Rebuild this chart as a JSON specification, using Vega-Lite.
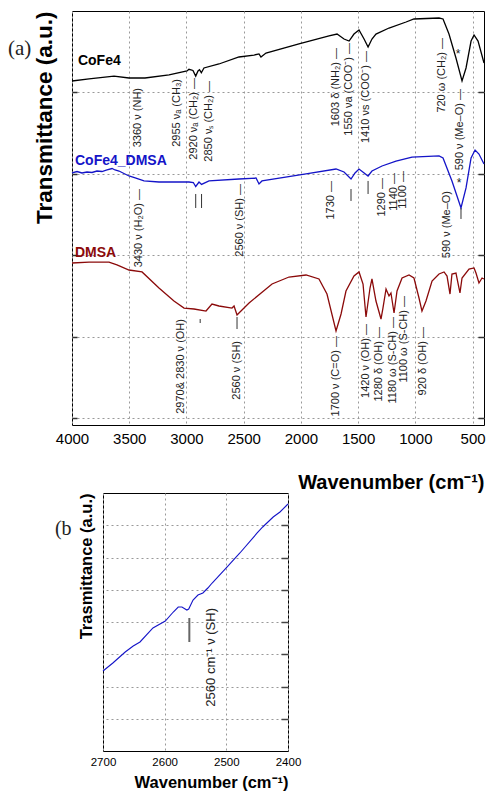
{
  "$schema": "https://vega.github.io/schema/vega-lite/v6.json",
  "padding": {"left": 7, "top": 10, "right": 0, "bottom": 0},
  "background": "white",
  "config": {"view": {"stroke": "black", "strokeWidth": 1}, "font": "Liberation Sans"},
  "datasets": {
    "spectra": [
      {"s":"CoFe4","wn":4000,"t":4.14},{"s":"CoFe4","wn":3851,"t":4.165},{"s":"CoFe4","wn":3633,"t":4.2},{"s":"CoFe4","wn":3502,"t":4.177},{"s":"CoFe4","wn":3362,"t":4.177},{"s":"CoFe4","wn":3152,"t":4.214},{"s":"CoFe4","wn":2995,"t":4.263},{"s":"CoFe4","wn":2978,"t":4.284},{"s":"CoFe4","wn":2943,"t":4.269},{"s":"CoFe4","wn":2919,"t":4.2},{"s":"CoFe4","wn":2899,"t":4.263},{"s":"CoFe4","wn":2886,"t":4.278},{"s":"CoFe4","wn":2870,"t":4.242},{"s":"CoFe4","wn":2847,"t":4.3},{"s":"CoFe4","wn":2716,"t":4.349},{"s":"CoFe4","wn":2541,"t":4.435},{"s":"CoFe4","wn":2410,"t":4.459},{"s":"CoFe4","wn":2366,"t":4.472},{"s":"CoFe4","wn":2349,"t":4.435},{"s":"CoFe4","wn":2305,"t":4.484},{"s":"CoFe4","wn":2017,"t":4.595},{"s":"CoFe4","wn":1754,"t":4.693},{"s":"CoFe4","wn":1684,"t":4.717},{"s":"CoFe4","wn":1623,"t":4.656},{"s":"CoFe4","wn":1579,"t":4.631},{"s":"CoFe4","wn":1536,"t":4.717},{"s":"CoFe4","wn":1492,"t":4.767},{"s":"CoFe4","wn":1448,"t":4.656},{"s":"CoFe4","wn":1413,"t":4.558},{"s":"CoFe4","wn":1379,"t":4.656},{"s":"CoFe4","wn":1344,"t":4.717},{"s":"CoFe4","wn":1230,"t":4.791},{"s":"CoFe4","wn":1081,"t":4.865},{"s":"CoFe4","wn":1012,"t":4.902},{"s":"CoFe4","wn":793,"t":4.914},{"s":"CoFe4","wn":758,"t":4.902},{"s":"CoFe4","wn":706,"t":4.717},{"s":"CoFe4","wn":645,"t":4.423},{"s":"CoFe4","wn":592,"t":4.14},{"s":"CoFe4","wn":557,"t":4.3},{"s":"CoFe4","wn":513,"t":4.631},{"s":"CoFe4","wn":487,"t":4.705},{"s":"CoFe4","wn":452,"t":4.631},{"s":"CoFe4","wn":400,"t":4.361},
      {"s":"CoFe4_DMSA","wn":4000,"t":3.01},{"s":"CoFe4_DMSA","wn":3956,"t":3.028},{"s":"CoFe4_DMSA","wn":3913,"t":3.01},{"s":"CoFe4_DMSA","wn":3869,"t":3.022},{"s":"CoFe4_DMSA","wn":3825,"t":3.016},{"s":"CoFe4_DMSA","wn":3782,"t":3.034},{"s":"CoFe4_DMSA","wn":3738,"t":3.028},{"s":"CoFe4_DMSA","wn":3694,"t":3.047},{"s":"CoFe4_DMSA","wn":3650,"t":3.065},{"s":"CoFe4_DMSA","wn":3624,"t":3.047},{"s":"CoFe4_DMSA","wn":3589,"t":3.034},{"s":"CoFe4_DMSA","wn":3546,"t":3.004},{"s":"CoFe4_DMSA","wn":3502,"t":2.973},{"s":"CoFe4_DMSA","wn":3441,"t":2.948},{"s":"CoFe4_DMSA","wn":3371,"t":2.912},{"s":"CoFe4_DMSA","wn":3240,"t":2.899},{"s":"CoFe4_DMSA","wn":2978,"t":2.899},{"s":"CoFe4_DMSA","wn":2940,"t":2.893},{"s":"CoFe4_DMSA","wn":2919,"t":2.844},{"s":"CoFe4_DMSA","wn":2890,"t":2.899},{"s":"CoFe4_DMSA","wn":2868,"t":2.869},{"s":"CoFe4_DMSA","wn":2803,"t":2.912},{"s":"CoFe4_DMSA","wn":2541,"t":2.936},{"s":"CoFe4_DMSA","wn":2392,"t":2.948},{"s":"CoFe4_DMSA","wn":2366,"t":2.875},{"s":"CoFe4_DMSA","wn":2340,"t":2.912},{"s":"CoFe4_DMSA","wn":1955,"t":2.998},{"s":"CoFe4_DMSA","wn":1693,"t":3.059},{"s":"CoFe4_DMSA","wn":1623,"t":3.022},{"s":"CoFe4_DMSA","wn":1562,"t":2.936},{"s":"CoFe4_DMSA","wn":1527,"t":3.01},{"s":"CoFe4_DMSA","wn":1492,"t":3.059},{"s":"CoFe4_DMSA","wn":1413,"t":2.973},{"s":"CoFe4_DMSA","wn":1379,"t":3.034},{"s":"CoFe4_DMSA","wn":1291,"t":3.096},{"s":"CoFe4_DMSA","wn":1169,"t":3.157},{"s":"CoFe4_DMSA","wn":1029,"t":3.206},{"s":"CoFe4_DMSA","wn":793,"t":3.219},{"s":"CoFe4_DMSA","wn":758,"t":3.194},{"s":"CoFe4_DMSA","wn":680,"t":2.912},{"s":"CoFe4_DMSA","wn":601,"t":2.58},{"s":"CoFe4_DMSA","wn":557,"t":2.826},{"s":"CoFe4_DMSA","wn":513,"t":3.194},{"s":"CoFe4_DMSA","wn":478,"t":3.292},{"s":"CoFe4_DMSA","wn":444,"t":3.243},{"s":"CoFe4_DMSA","wn":400,"t":3.12},
      {"s":"DMSA","wn":4000,"t":1.904},{"s":"DMSA","wn":3851,"t":1.916},{"s":"DMSA","wn":3677,"t":1.916},{"s":"DMSA","wn":3607,"t":1.88},{"s":"DMSA","wn":3502,"t":1.818},{"s":"DMSA","wn":3388,"t":1.794},{"s":"DMSA","wn":3240,"t":1.597},{"s":"DMSA","wn":3109,"t":1.437},{"s":"DMSA","wn":3021,"t":1.351},{"s":"DMSA","wn":2934,"t":1.339},{"s":"DMSA","wn":2829,"t":1.314},{"s":"DMSA","wn":2777,"t":1.4},{"s":"DMSA","wn":2716,"t":1.376},{"s":"DMSA","wn":2602,"t":1.351},{"s":"DMSA","wn":2584,"t":1.376},{"s":"DMSA","wn":2558,"t":1.265},{"s":"DMSA","wn":2541,"t":1.29},{"s":"DMSA","wn":2453,"t":1.413},{"s":"DMSA","wn":2252,"t":1.646},{"s":"DMSA","wn":2104,"t":1.732},{"s":"DMSA","wn":1955,"t":1.757},{"s":"DMSA","wn":1842,"t":1.708},{"s":"DMSA","wn":1772,"t":1.523},{"s":"DMSA","wn":1693,"t":1.069},{"s":"DMSA","wn":1649,"t":1.278},{"s":"DMSA","wn":1606,"t":1.56},{"s":"DMSA","wn":1536,"t":1.744},{"s":"DMSA","wn":1492,"t":1.794},{"s":"DMSA","wn":1457,"t":1.646},{"s":"DMSA","wn":1431,"t":1.241},{"s":"DMSA","wn":1396,"t":1.597},{"s":"DMSA","wn":1379,"t":1.708},{"s":"DMSA","wn":1344,"t":1.437},{"s":"DMSA","wn":1300,"t":1.216},{"s":"DMSA","wn":1283,"t":1.351},{"s":"DMSA","wn":1256,"t":1.585},{"s":"DMSA","wn":1230,"t":1.499},{"s":"DMSA","wn":1213,"t":1.536},{"s":"DMSA","wn":1186,"t":1.29},{"s":"DMSA","wn":1160,"t":1.56},{"s":"DMSA","wn":1116,"t":1.72},{"s":"DMSA","wn":1055,"t":1.757},{"s":"DMSA","wn":1012,"t":1.72},{"s":"DMSA","wn":968,"t":1.474},{"s":"DMSA","wn":942,"t":1.314},{"s":"DMSA","wn":907,"t":1.437},{"s":"DMSA","wn":854,"t":1.683},{"s":"DMSA","wn":793,"t":1.769},{"s":"DMSA","wn":749,"t":1.794},{"s":"DMSA","wn":723,"t":1.744},{"s":"DMSA","wn":697,"t":1.523},{"s":"DMSA","wn":680,"t":1.769},{"s":"DMSA","wn":645,"t":1.781},{"s":"DMSA","wn":610,"t":1.536},{"s":"DMSA","wn":592,"t":1.72},{"s":"DMSA","wn":531,"t":1.83},{"s":"DMSA","wn":487,"t":1.843},{"s":"DMSA","wn":470,"t":1.781},{"s":"DMSA","wn":444,"t":1.658},{"s":"DMSA","wn":417,"t":1.72},{"s":"DMSA","wn":400,"t":1.708}
    ],
    "ann": [
      {"wn":3420,"t":4.054,"label":"3360 ν (NH)"},
      {"wn":3083,"t":4.165,"label":"2955 νₐ (CH₃)"},
      {"wn":2934,"t":4.177,"label":"2920 νₐ (CH₂) —"},
      {"wn":2803,"t":4.14,"label":"2850 νₛ (CH₂) —"},
      {"wn":1693,"t":4.545,"label":"1603 δ (NH₂) —"},
      {"wn":1580,"t":4.607,"label":"1550 νa (COO⁻) —"},
      {"wn":1431,"t":4.509,"label":"1410 νs (COO⁻) —"},
      {"wn":767,"t":4.668,"label":"720 ω (CH₂) —"},
      {"wn":610,"t":4.042,"label":"590 ν (Me–O) —"},
      {"wn":3415,"t":2.813,"label":"3430 ν (H₂O) —"},
      {"wn":2532,"t":2.875,"label":"2560 ν (SH) —"},
      {"wn":1737,"t":2.912,"label":"1730 —"},
      {"wn":1291,"t":2.948,"label":"1290 —"},
      {"wn":1186,"t":3.01,"label":"1140 —"},
      {"wn":1108,"t":3.034,"label":"1100 —"},
      {"wn":723,"t":2.789,"label":"590 ν (Me–O)"},
      {"wn":3048,"t":1.216,"label":"2970& 2830 ν (OH)"},
      {"wn":2558,"t":0.946,"label":"2560 ν (SH)"},
      {"wn":1693,"t":1.007,"label":"1700 ν (C=O) —"},
      {"wn":1431,"t":1.155,"label":"1420 ν (OH) —"},
      {"wn":1317,"t":1.118,"label":"1280 δ (OH) —"},
      {"wn":1195,"t":1.241,"label":"1180 ω (S-CH) —"},
      {"wn":1099,"t":1.499,"label":"1100 ω (S-CH) —"},
      {"wn":933,"t":1.118,"label":"920 δ (OH) —"}
    ],
    "bars": [
      {"wn":2919,"t":2.752,"t2":2.58},{"wn":2868,"t":2.752,"t2":2.58},{"wn":1562,"t":2.813,"t2":2.666},{"wn":1413,"t":2.912,"t2":2.752},{"wn":601,"t":2.58,"t2":2.445},{"wn":2880,"t":1.216,"t2":1.167},{"wn":2558,"t":1.241,"t2":1.093}
    ],
    "stars": [{"wn":627,"t":4.472,"label":"*"},{"wn":618,"t":2.887,"label":"*"}],
    "names": [
      {"wn":3948,"t":4.386,"label":"CoFe4","s":"CoFe4"},
      {"wn":3974,"t":3.157,"label":"CoFe4_DMSA","s":"CoFe4_DMSA"},
      {"wn":3974,"t":2.027,"label":"DMSA","s":"DMSA"}
    ],
    "zoomspec": [
      {"wn":2700,"t":2.481},{"wn":2684,"t":2.729},{"wn":2664,"t":3.07},{"wn":2651,"t":3.256},{"wn":2640,"t":3.38},{"wn":2619,"t":3.814},{"wn":2599,"t":4.031},{"wn":2586,"t":4.31},{"wn":2578,"t":4.465},{"wn":2572,"t":4.465},{"wn":2564,"t":4.372},{"wn":2561,"t":4.403},{"wn":2554,"t":4.682},{"wn":2546,"t":4.837},{"wn":2538,"t":4.899},{"wn":2530,"t":5.054},{"wn":2523,"t":5.209},{"wn":2499,"t":5.705},{"wn":2478,"t":6.14},{"wn":2450,"t":6.76},{"wn":2441,"t":6.946},{"wn":2424,"t":7.256},{"wn":2413,"t":7.411},{"wn":2400,"t":7.659}
    ]
  },
  "concat": [
    {
      "width": 412,
      "height": 414,
      "layer": [
        {
          "data": {"name": "spectra"},
          "mark": {"type": "line", "strokeWidth": 1.3},
          "encoding": {
            "x": {"field": "wn", "type": "quantitative",
              "scale": {"domain": [400, 4000], "reverse": true, "nice": false, "zero": false},
              "axis": {"values": [4000,3500,3000,2500,2000,1500,1000,500], "format": "d", "labelFlush": false, "labelFontSize": 15, "labelColor": "black", "labelPadding": 6, "ticks": false, "domain": false, "grid": true, "gridDash": [2,3], "gridColor": "#999", "title": "Wavenumber (cm⁻¹)", "titleFontSize": 20, "titleFontWeight": "bold", "titleAnchor": "start", "titleAlign": "right", "titlePadding": 26, "titleColor": "black"}},
            "y": {"field": "t", "type": "quantitative",
              "scale": {"domain": [-0.086, 5], "nice": false, "zero": false},
              "axis": {"values": [0,1,2,3,4], "labels": false, "tickSize": -5, "tickColor": "#333", "tickWidth": 1.5, "domain": false, "grid": true, "gridDash": [2,3], "gridColor": "#999", "title": "Transmittance (a.u.)", "titleFontSize": 22.5, "titleFontWeight": "bold", "titleAnchor": "end", "titlePadding": 15, "titleColor": "black"}},
            "color": {"field": "s", "type": "nominal", "scale": {"domain": ["CoFe4","CoFe4_DMSA","DMSA"], "range": ["#000000","#1414c8","#8b0a0a"]}, "legend": null}
          }
        },
        {
          "data": {"name": "ann"},
          "mark": {"type": "text", "angle": 270, "align": "right", "baseline": "middle", "fontSize": 11, "color": "#222"},
          "encoding": {
            "x": {"field": "wn", "type": "quantitative"},
            "y": {"field": "t", "type": "quantitative", "axis": null},
            "text": {"field": "label"}
          }
        },
        {
          "data": {"name": "stars"},
          "mark": {"type": "text", "align": "center", "baseline": "middle", "fontSize": 12, "color": "#222"},
          "encoding": {
            "x": {"field": "wn", "type": "quantitative"},
            "y": {"field": "t", "type": "quantitative", "axis": null},
            "text": {"field": "label"}
          }
        },
        {
          "data": {"name": "names"},
          "mark": {"type": "text", "align": "left", "baseline": "middle", "fontSize": 14, "fontWeight": "bold"},
          "encoding": {
            "x": {"field": "wn", "type": "quantitative"},
            "y": {"field": "t", "type": "quantitative", "axis": null},
            "text": {"field": "label"},
            "color": {"field": "s", "type": "nominal", "legend": null}
          }
        },
        {
          "data": {"values": [{"wn": 4560, "t": 4.53, "label": "(a)"}]},
          "mark": {"type": "text", "align": "left", "baseline": "middle", "fontSize": 21, "font": "Liberation Serif", "color": "#222"},
          "encoding": {
            "x": {"field": "wn", "type": "quantitative"},
            "y": {"field": "t", "type": "quantitative", "axis": null},
            "text": {"field": "label"}
          }
        },
        {
          "data": {"name": "bars"},
          "mark": {"type": "rule", "color": "#333", "strokeWidth": 1},
          "encoding": {
            "x": {"field": "wn", "type": "quantitative"},
            "y": {"field": "t", "type": "quantitative", "axis": {"orient": "right", "values": [0,1,2,3,4], "labels": false, "tickSize": -6, "tickColor": "#333", "tickWidth": 1.5, "domain": false, "grid": false, "title": null}},
            "y2": {"field": "t2"}
          }
        }
      ],
      "resolve": {"axis": {"y": "independent"}}
    },
    {
      "hconcat": [
        {
          "width": 1,
          "height": 258,
          "data": {"values": [{"wn": 0}]},
          "mark": {"type": "point", "opacity": 0},
          "encoding": {},
          "view": {"stroke": null}
        },
        {
          "width": 185,
          "height": 258,
          "layer": [
            {
              "data": {"name": "zoomspec"},
              "mark": {"type": "line", "color": "#1414c8", "strokeWidth": 1.1},
              "encoding": {
                "x": {"field": "wn", "type": "quantitative",
                  "scale": {"domain": [2400, 2700], "reverse": true, "nice": false, "zero": false},
                  "axis": {"values": [2700,2650,2600,2550,2500,2450,2400], "format": "d", "labelFlush": false, "labelFontSize": 11.5, "labelColor": "black", "labelPadding": 5, "ticks": false, "domain": false, "grid": true, "gridDash": [2,3], "gridColor": "#999", "title": "Wavenumber (cm⁻¹)", "titleFontSize": 16.5, "titleFontWeight": "bold", "titleAnchor": "start", "titleAlign": "right", "titlePadding": 7, "titleColor": "black"}},
                "y": {"field": "t", "type": "quantitative",
                  "scale": {"domain": [0, 8], "nice": false, "zero": false},
                  "axis": {"values": [1,2,3,4,5,6,7], "labels": false, "ticks": false, "domain": false, "grid": true, "gridDash": [2,3], "gridColor": "#999", "title": "Trasmittance (a.u.)", "titleFontSize": 16.5, "titleFontWeight": "bold", "titleAnchor": "end", "titlePadding": 9, "titleColor": "black"}}
              }
            },
            {
              "data": {"values": [{"wn": 2560, "t": 4.124, "t2": 3.38}]},
              "mark": {"type": "rule", "color": "#666", "strokeWidth": 2},
              "encoding": {
                "x": {"field": "wn", "type": "quantitative"},
                "y": {"field": "t", "type": "quantitative", "axis": {"orient": "right", "values": [1,2,3,4,5,6,7], "labels": false, "tickSize": -7, "tickColor": "#444", "tickWidth": 1.5, "domain": false, "grid": false, "title": null}},
                "y2": {"field": "t2"}
              }
            },
            {
              "data": {"values": [{"wn": 2525, "t": 4.434, "label": "2560 cm⁻¹  ν (SH)"}]},
              "mark": {"type": "text", "angle": 270, "align": "right", "baseline": "middle", "fontSize": 13, "color": "#222"},
              "encoding": {
                "x": {"field": "wn", "type": "quantitative"},
                "y": {"field": "t", "type": "quantitative", "axis": null},
                "text": {"field": "label"}
              }
            },
            {
              "data": {"values": [{"wn": 2778, "t": 6.88, "label": "(b"}]},
              "mark": {"type": "text", "align": "left", "baseline": "middle", "fontSize": 20, "font": "Liberation Serif", "color": "#222"},
              "encoding": {
                "x": {"field": "wn", "type": "quantitative"},
                "y": {"field": "t", "type": "quantitative", "axis": null},
                "text": {"field": "label"}
              }
            }
          ],
          "resolve": {"axis": {"y": "independent"}}
        }
      ],
      "spacing": -22
    }
  ],
  "columns": 1,
  "spacing": -8
}
